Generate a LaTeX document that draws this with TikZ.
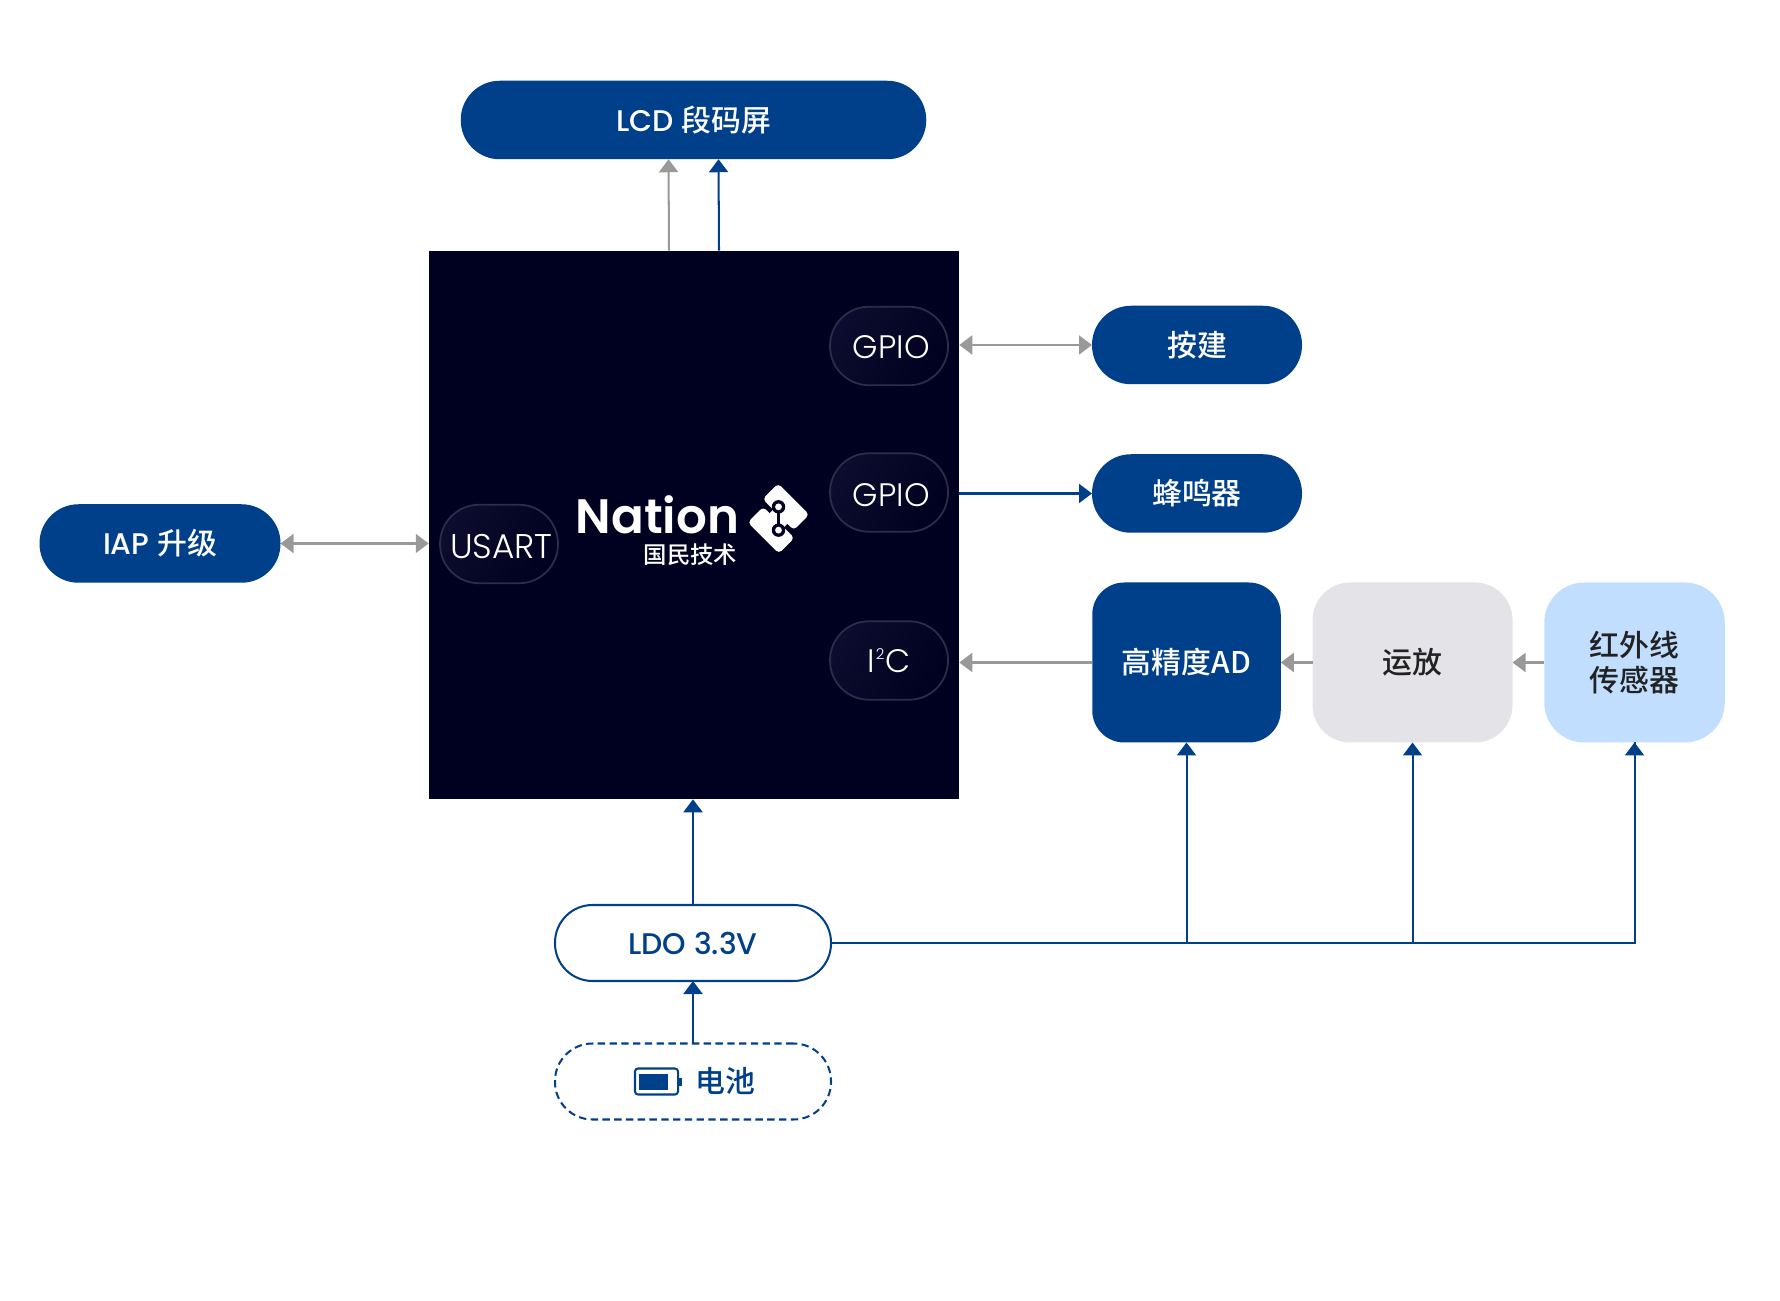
\documentclass[tikz,border=0pt]{standalone}
\usepackage{fontspec}
\setmainfont{Poppins Medium}
\newfontfamily\cjk{Noto Sans CJK SC Medium}
\newfontfamily\logofont{Poppins SemiBold}
\newfontfamily\portfont{Poppins Light}
\newcommand{\zh}[1]{{\cjk #1}}
\usetikzlibrary{arrows.meta}
\definecolor{navy}{HTML}{003F8A}
\definecolor{chipdark}{HTML}{000120}
\definecolor{pillfill}{HTML}{0C0D2E}
\definecolor{pilledge}{HTML}{2C2D48}
\definecolor{greyline}{HTML}{999999}
\definecolor{opamp}{HTML}{E3E3E8}
\definecolor{sensor}{HTML}{C2DEFF}
\definecolor{inkdark}{HTML}{222222}
\tikzset{
    box/.style={inner sep=0pt, outer sep=0pt, align=center, font=\fontsize{17}{20}\selectfont},
    bluepill/.style={box, fill=navy, text=white, rounded corners=0.78cm, minimum height=1.57cm},
    port/.style={box, draw=pilledge, line width=1pt, left color=pillfill, right color=chipdark, shading angle=60, text=white, rounded corners=0.78cm, minimum width=2.36cm, minimum height=1.57cm, font=\portfont\fontsize{18.5}{20}\selectfont},
    blueline/.style={navy, line width=1.15pt},
    greyarrow/.style={greyline, line width=1.15pt, -{Triangle[width=0.38cm,length=0.26cm]}},
    bluearrow/.style={blueline, -{Triangle[width=0.38cm,length=0.26cm]}},
    twoway/.style={greyline, line width=1.15pt, {Triangle[width=0.38cm,length=0.26cm]}-{Triangle[width=0.38cm,length=0.26cm]}}
}
\begin{document}
\begin{tikzpicture}
    \useasboundingbox (0,0) rectangle (35.6,26);
    % chip and its ports
    \node[box, fill=chipdark, minimum width=10.61cm, minimum height=10.97cm] (chip) at (13.88,15.50) {};
    \node[port, text height=14.5pt] (gpioa) at (17.78,19.08) {\kern2.6pt GPIO};
    \node[port, text height=15.5pt] (gpiob) at (17.78,16.15) {\kern2.6pt GPIO};
    \node[port] (iic) at (17.78,12.79) {I\kern0.3pt\raisebox{0.42em}{\fontsize{8.5}{9}\selectfont 2}\kern0.3pt C};
    \node[port, font=\portfont\fontsize{19.5}{20}\selectfont, text height=16.2pt] (usart) at (9.98,15.12) {\kern2.6pt USART};
    % logo
    \node[box, text=white, font=\logofont\fontsize{27.5}{28}\selectfont] (nation) at (13.15,15.70) {Nation};
    \node[box, text=white, font=\cjk\fontsize{13.3}{14}\selectfont, text height=0.42cm, text depth=0.02cm] (guomin) at (13.81,14.92) {国民技术};
    \begin{scope}[shift={(15.57,15.63)}]
        \begin{scope}[rotate=-45]
            \fill[white, rounded corners=0.08cm] (-0.50,0.05) rectangle (0.38,0.49);
            \fill[white, rounded corners=0.08cm] (-0.38,-0.49) rectangle (0.50,-0.05);
            \fill[white] (-0.2,-0.06) rectangle (0.2,0.06);
        \end{scope}
        \draw[chipdark, line width=0.055cm] (0,0.233) -- (0,-0.233);
        \fill[chipdark] (0,0.233) circle (0.135) (0,-0.233) circle (0.135);
        \fill[white] (0,0.233) circle (0.068) (0,-0.233) circle (0.068);
    \end{scope}
    % peripherals
    \node[bluepill, minimum width=9.31cm] (lcd) at (13.87,23.60) {LCD \zh{段码屏}};
    \node[bluepill, minimum width=4.20cm] (key) at (23.94,19.10) {\zh{按建}};
    \node[bluepill, minimum width=4.20cm] (buzzer) at (23.94,16.13) {\zh{蜂鸣器}};
    \node[bluepill, minimum width=4.82cm] (iap) at (3.20,15.13) {IAP \zh{升级}};
    \node[box, fill=navy, text=white, rounded corners=0.64cm, minimum width=3.77cm, minimum height=3.20cm] (adc) at (23.73,12.75) {\zh{高精度AD}};
    \node[box, fill=opamp, text=inkdark, rounded corners=0.75cm, minimum width=4.00cm, minimum height=3.20cm] (amp) at (28.25,12.75) {\zh{运放}};
    \node[box, fill=sensor, text=inkdark, rounded corners=0.8cm, minimum width=3.61cm, minimum height=3.20cm] (ir) at (32.69,12.75) {\zh{红外线}\\\zh{传感器}};
    \node[box, draw=navy, line width=1.15pt, fill=white, text=navy, rounded corners=0.75cm, minimum width=5.52cm, minimum height=1.52cm] (ldo) at (13.86,7.14) {LDO 3.3V};
    \node[box, draw=navy, line width=1.15pt, dash pattern=on 4.2pt off 2.5pt, rounded corners=0.75cm, minimum width=5.52cm, minimum height=1.52cm] (bat) at (13.86,4.37) {};
    \node[box, text=navy] (battext) at (14.51,4.37) {\zh{电池}};
    \begin{scope}[shift={(bat.center)}]
        \draw[navy, line width=1.15pt, rounded corners=0.06cm] (-1.16,-0.26) rectangle (-0.30,0.26);
        \fill[navy] (-1.08,-0.16) rectangle (-0.50,0.16);
        \fill[navy] (-0.28,-0.08) rectangle (-0.22,0.08);
    \end{scope}
    % connectors
    \draw[greyarrow] ([xshift=-0.5cm]chip.north) -- ([xshift=-0.5cm]lcd.south);
    \draw[bluearrow] ([xshift=0.5cm]chip.north) -- ([xshift=0.5cm]lcd.south);
    \draw[twoway] (chip.east |- key) -- (key);
    \draw[bluearrow] (chip.east |- buzzer) -- (buzzer);
    \draw[greyarrow] (adc.west) -- (chip.east |- adc);
    \draw[greyarrow] (amp) -- (adc);
    \draw[greyarrow] (ir) -- (amp);
    \draw[twoway] (iap) -- (chip.west |- iap);
    \draw[bluearrow] (ldo) -- (chip.south -| ldo);
    \draw[bluearrow] (bat) -- (ldo);
    \draw[blueline] (ldo.east) -| (ir.south);
    \draw[bluearrow] (adc.south |- ldo) -- (adc.south);
    \draw[bluearrow] (amp.south |- ldo) -- (amp.south);
    \draw[bluearrow] (ir.south |- ldo) -- (ir.south);
\end{tikzpicture}
\end{document}
